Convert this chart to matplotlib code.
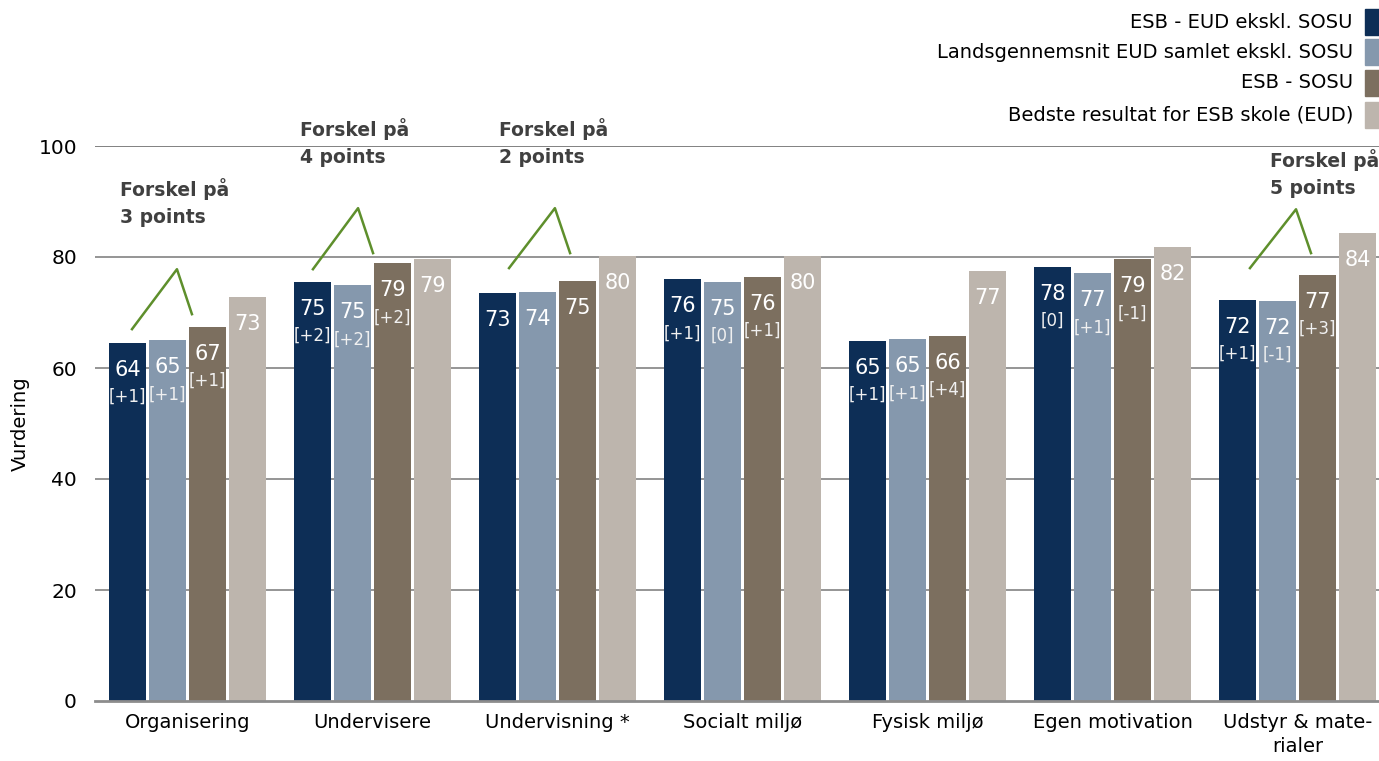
import matplotlib
matplotlib.use("Agg")
import matplotlib.pyplot as plt
from matplotlib.patches import Rectangle
import numpy as np

categories = ["Organisering", "Undervisere", "Undervisning *", "Socialt miljø",
              "Fysisk miljø", "Egen motivation", "Udstyr & mate-\nrialer"]
series_names = ["ESB - EUD ekskl. SOSU", "Landsgennemsnit EUD samlet ekskl. SOSU",
                "ESB - SOSU", "Bedste resultat for ESB skole (EUD)"]
esb_eud = [64.5, 75.5, 73.5, 76.0, 64.9, 78.2, 72.3]
lands = [65.0, 74.9, 73.7, 75.5, 65.2, 77.1, 72.1]
esb_sosu = [67.4, 78.9, 75.7, 76.4, 65.8, 79.6, 76.8]
bedste = [72.8, 79.6, 80.2, 80.2, 77.5, 81.8, 84.3]
labels_eud = ["64", "75", "73", "76", "65", "78", "72"]
labels_lands = ["65", "75", "74", "75", "65", "77", "72"]
labels_sosu = ["67", "79", "75", "76", "66", "79", "77"]
labels_bedste = ["73", "79", "80", "80", "77", "82", "84"]
change_eud = ["[+1]", "[+2]", "", "[+1]", "[+1]", "[0]", "[+1]"]
change_lands = ["[+1]", "[+2]", "", "[0]", "[+1]", "[+1]", "[-1]"]
change_sosu = ["[+1]", "[+2]", "", "[+1]", "[+4]", "[-1]", "[+3]"]
change_bedste = ["", "", "", "", "", "", ""]
yticks = [0, 20, 40, 60, 80, 100]

# "Forskel" callouts: text, text anchor (x, y top), and the "^" line points
annot_texts = ["Forskel på\n3 points", "Forskel på\n4 points",
               "Forskel på\n2 points", "Forskel på\n5 points"]
annot_text_x = [-0.365, 0.608, 1.684, 5.851]
annot_text_y = [94.2, 105.0, 105.0, 99.5]
annot_line_x = [[-0.30, -0.057, 0.024], [0.678, 0.922, 1.003],
                [1.738, 1.986, 2.068], [5.743, 5.992, 6.073]]
annot_line_y = [[67.0, 77.8, 69.7], [77.8, 88.8, 80.7],
                [78.0, 88.8, 80.7], [78.0, 88.6, 80.7]]

colors = ["#0d2e56", "#8598ad", "#7c6f5f", "#bdb5ad"]
green = "#5e8f2c"

W, H = 1379, 761
fig = plt.figure(figsize=(W / 100, H / 100), dpi=100)
x0, x1 = 95, 1379
y0, y1 = 701, 146
ax = fig.add_axes([x0 / W, (H - y0) / H, (x1 - x0) / W, (y0 - y1) / H])

pitch_px = 185
ax.set_xlim(-0.5, -0.5 + (x1 - x0) / pitch_px)
ax.set_ylim(0, 100)

x = np.arange(len(categories))
bw = 0.2
step = 0.216
all_vals = [esb_eud, lands, esb_sosu, bedste]
all_labels = [labels_eud, labels_lands, labels_sosu, labels_bedste]
all_changes = [change_eud, change_lands, change_sosu, change_bedste]

for yt in yticks[1:]:
    ax.axhline(yt, color="#8c8c8c" if yt < 100 else "#777777", lw=1.3, zorder=0)

for i in range(4):
    xs = x + (i - 1.5) * step
    ax.bar(xs, all_vals[i], width=bw, color=colors[i], zorder=2, label=series_names[i])
    for xx, v, lab, ch in zip(xs, all_vals[i], all_labels[i], all_changes[i]):
        ax.annotate(lab, (xx, v), xytext=(0, -19.5), textcoords="offset points",
                    ha="center", va="center", color="white", fontsize=15, zorder=3)
        if ch:
            ax.annotate(ch, (xx, v), xytext=(0, -39), textcoords="offset points",
                        ha="center", va="center", color="#f0f0f0", fontsize=12,
                        zorder=3)

for txt, tx, ty, lx, ly in zip(annot_texts, annot_text_x, annot_text_y,
                               annot_line_x, annot_line_y):
    ax.plot(lx, ly, color=green, lw=1.8, zorder=4, clip_on=False)
    ax.text(tx, ty, txt, ha="left", va="top", fontsize=13.5, fontweight="bold",
            color="#404040", linespacing=1.55, clip_on=False)

ax.set_xticks(x)
ax.set_xticklabels(categories, fontsize=14, linespacing=1.3)
ax.set_yticks(yticks)
ax.set_yticklabels([str(v) for v in yticks], fontsize=14.5)
ax.tick_params(axis="both", length=0)
ax.tick_params(axis="x", pad=9)
ax.tick_params(axis="y", pad=13)
ax.set_ylabel("Vurdering", fontsize=14, labelpad=6)
for s in ["top", "right", "left"]:
    ax.spines[s].set_visible(False)
ax.spines["bottom"].set_color("#8c8c8c")
ax.spines["bottom"].set_linewidth(2)

# legend (manual, right aligned)
leg_y = [22, 52, 83, 115]
for name, c, yy in zip(series_names, colors, leg_y):
    fig.text(1353 / W, 1 - yy / H, name, ha="right", va="center", fontsize=14)
    fig.add_artist(Rectangle((1365 / W, 1 - (yy + 13) / H), 16 / W, 26 / H,
                             transform=fig.transFigure, color=c))

fig.savefig("out.png", dpi=100)
